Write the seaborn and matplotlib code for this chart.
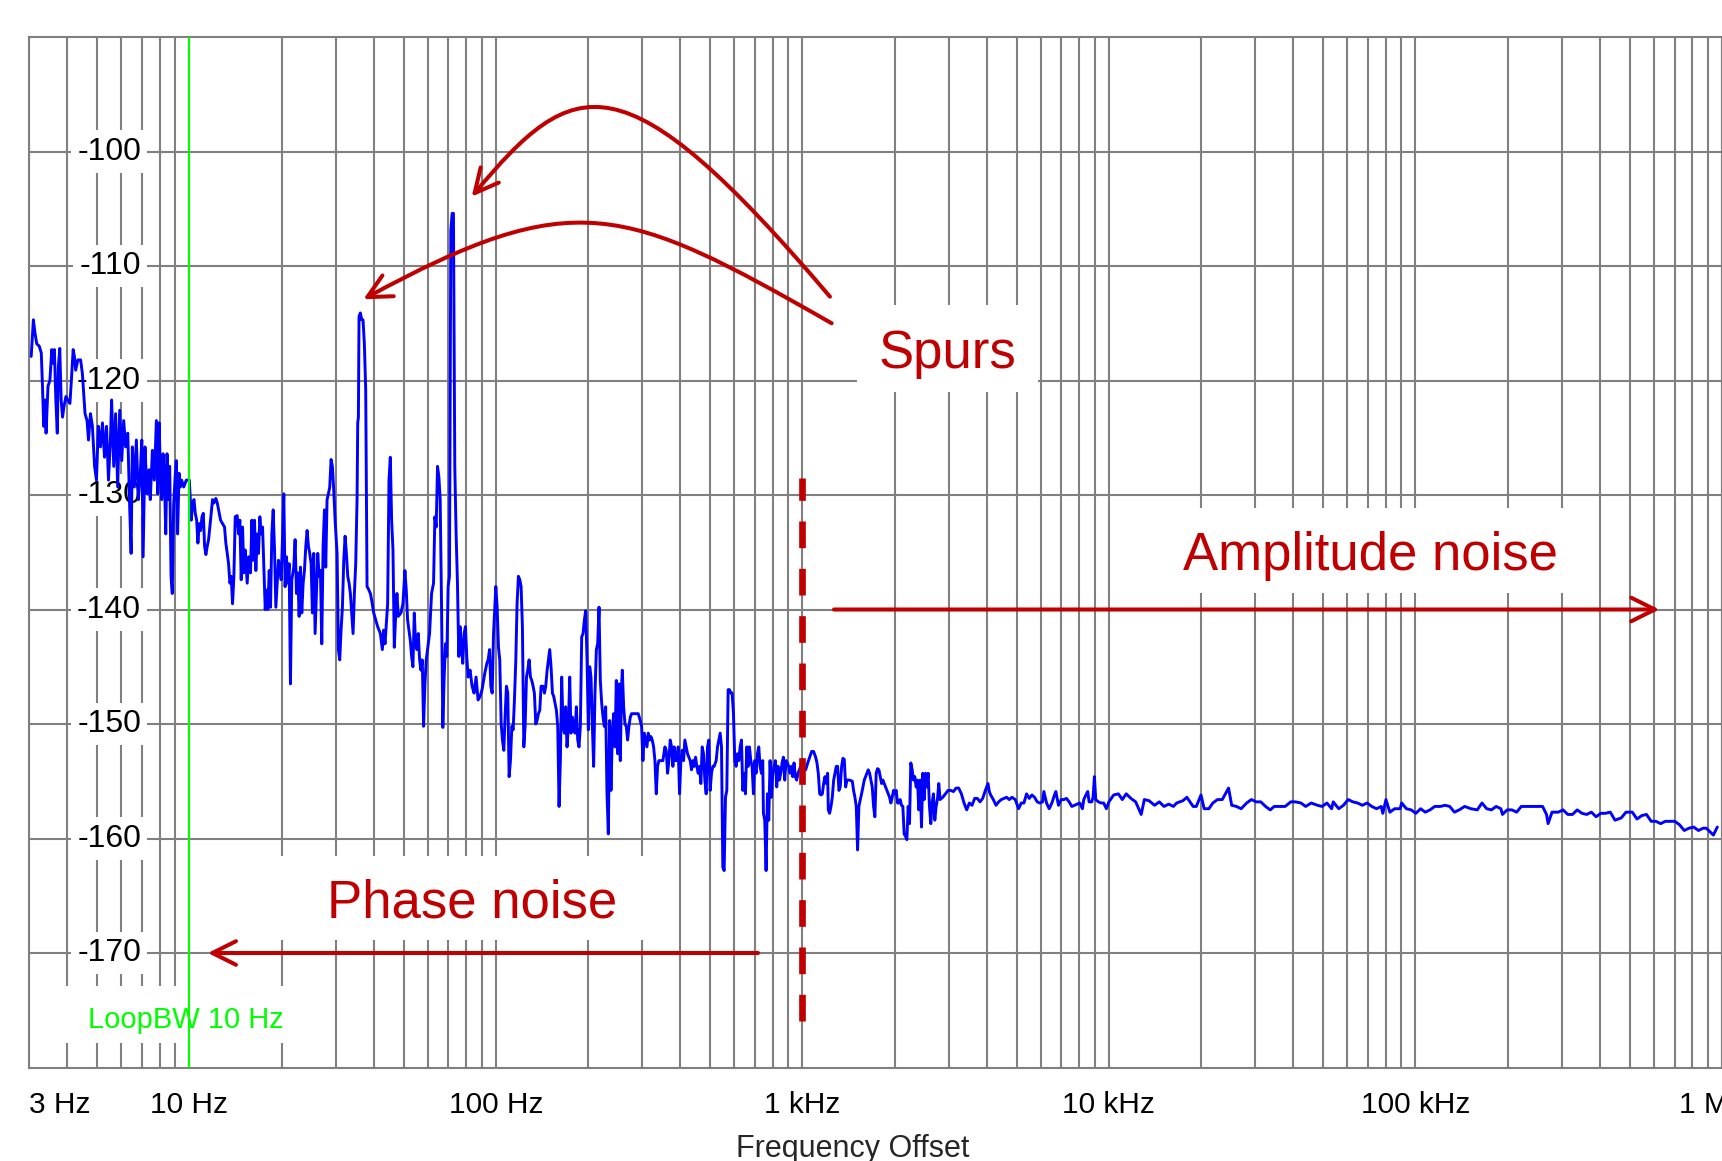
import matplotlib
matplotlib.use("Agg")
import numpy as np
import pandas as pd
import matplotlib.pyplot as plt
import matplotlib.transforms as mtransforms
import seaborn as sns
from matplotlib.patches import Rectangle, FancyArrowPatch
from matplotlib.path import Path
from matplotlib.ticker import FixedLocator, LogLocator, NullFormatter

# ---------------- data: (offset frequency Hz, dBc/Hz) ----------------
band_3_10hz = [
    (3.05, -117.9), (3.10, -114.7), (3.14, -115.9), (3.18, -116.8), (3.24, -117.0), (3.29, -117.6),
    (3.32, -120.5), (3.35, -124.0), (3.39, -121.7), (3.41, -124.6), (3.46, -120.5), (3.51, -120.0),
    (3.56, -117.3), (3.60, -118.5), (3.63, -117.3), (3.67, -121.7), (3.71, -124.6), (3.74, -118.8),
    (3.78, -117.2), (3.82, -121.7), (3.86, -123.2), (3.90, -122.3), (3.96, -121.4), (4.01, -121.7),
    (4.08, -122.0), (4.12, -120.2), (4.18, -117.3), (4.22, -117.9), (4.26, -119.1), (4.33, -118.2),
    (4.42, -118.2), (4.48, -119.4), (4.53, -121.4), (4.57, -122.9), (4.64, -123.5), (4.69, -125.2),
    (4.76, -122.9), (4.83, -124.0), (4.91, -127.5), (4.98, -128.7), (5.05, -124.0), (5.13, -125.8),
    (5.21, -123.7), (5.29, -126.7), (5.37, -124.0), (5.45, -128.7), (5.53, -125.2), (5.58, -121.7),
    (5.67, -127.5), (5.75, -122.9), (5.84, -129.3), (5.93, -122.6), (6.02, -127.0), (6.11, -123.5),
    (6.20, -125.8), (6.30, -124.6), (6.39, -131.0), (6.46, -135.1), (6.52, -125.8), (6.62, -129.3),
    (6.72, -125.2), (6.82, -130.4), (6.92, -128.1), (7.00, -125.2), (7.07, -135.4), (7.17, -125.8),
    (7.28, -129.9), (7.39, -127.8), (7.46, -130.4), (7.58, -126.1), (7.69, -128.7), (7.81, -123.5),
    (7.89, -129.9), (7.97, -123.7), (8.05, -128.1), (8.13, -130.4), (8.21, -126.4), (8.29, -128.1),
    (8.38, -133.4), (8.46, -126.4), (8.54, -130.4), (8.63, -127.5), (8.72, -137.1), (8.80, -138.6),
    (8.89, -131.0), (8.98, -128.7), (9.07, -127.0), (9.16, -133.4), (9.26, -128.1), (9.35, -129.3),
    (9.44, -128.7), (9.59, -129.3), (9.78, -128.7), (10.0, -128.7),
]

band_10_100hz = [
    (10.08, -130.4), (10.15, -132.2), (10.25, -130.7), (10.36, -130.4), (10.46, -131.6), (10.57, -132.2),
    (10.67, -134.2), (10.78, -132.5), (10.89, -133.1), (11.00, -131.9), (11.11, -131.6), (11.22, -134.5),
    (11.33, -135.2), (11.44, -134.5), (11.56, -133.9), (11.73, -132.2), (11.91, -130.4), (12.03, -130.7),
    (12.21, -130.3), (12.34, -130.7), (12.46, -131.3), (12.65, -132.2), (12.84, -132.5), (13.03, -132.8),
    (13.16, -134.2), (13.30, -135.1), (13.43, -136.0), (13.57, -137.7), (13.70, -137.1), (13.84, -139.5),
    (13.98, -137.1), (14.12, -131.9), (14.33, -131.8), (14.48, -133.4), (14.62, -132.2), (14.77, -137.4),
    (14.92, -132.8), (15.07, -136.8), (15.22, -134.8), (15.45, -137.7), (15.61, -135.4), (15.84, -136.8),
    (16.00, -132.2), (16.16, -135.7), (16.32, -132.2), (16.49, -136.6), (16.65, -133.4), (16.82, -135.1),
    (16.99, -131.9), (17.16, -133.4), (17.34, -132.8), (17.51, -136.3), (17.69, -140.0), (17.86, -138.3),
    (18.04, -140.0), (18.23, -136.6), (18.41, -139.8), (18.59, -133.4), (18.78, -131.3), (18.97, -134.8),
    (19.16, -139.8), (19.35, -137.7), (19.54, -135.7), (19.74, -136.3), (19.94, -137.4), (20.14, -133.9),
    (20.34, -129.9), (20.54, -138.0), (20.75, -135.4), (20.96, -137.7), (21.17, -136.0), (21.38, -146.5),
    (21.60, -137.4), (21.92, -136.3), (22.14, -133.9), (22.37, -138.6), (22.59, -136.8), (22.82, -140.6),
    (23.05, -136.3), (23.28, -140.3), (23.52, -137.7), (23.75, -136.6), (23.99, -134.5), (24.23, -133.1),
    (24.48, -134.5), (24.72, -135.1), (24.97, -136.0), (25.22, -140.3), (25.47, -135.1), (25.73, -142.1),
    (25.99, -138.6), (26.25, -135.1), (26.51, -137.1), (26.78, -136.6), (27.05, -143.0), (27.32, -134.5),
    (27.60, -131.3), (27.87, -136.3), (28.15, -130.4), (28.44, -129.9), (28.72, -129.3), (29.01, -126.9),
    (29.30, -127.5), (29.60, -129.6), (29.90, -132.2), (30.35, -135.1), (30.65, -143.5), (30.96, -144.4),
    (31.27, -141.8), (31.59, -139.8), (31.91, -135.7), (32.23, -133.6), (32.55, -135.1), (32.88, -137.1),
    (33.21, -137.7), (33.54, -138.6), (33.88, -140.3), (34.22, -142.1), (34.56, -138.6), (34.91, -136.0),
    (35.26, -130.4), (35.44, -123.7), (35.62, -123.2), (35.79, -114.4), (36.15, -114.1), (36.52, -114.7),
    (36.88, -114.7), (37.25, -116.8), (37.63, -120.8), (38.01, -138.0), (38.39, -138.2), (38.97, -138.6),
    (39.36, -139.2), (39.96, -140.3), (40.56, -140.9), (41.17, -141.5), (42.01, -142.1), (42.64, -143.5),
    (43.06, -141.8), (43.50, -143.0), (43.93, -141.2), (44.37, -139.5), (44.82, -128.7), (45.27, -126.7),
    (45.72, -132.2), (46.18, -134.8), (46.64, -143.3), (47.11, -140.6), (47.58, -138.6), (48.06, -140.6),
    (49.03, -140.3), (49.77, -139.5), (50.52, -136.6), (51.03, -138.3), (51.54, -140.9), (52.06, -141.8),
    (52.60, -142.7), (53.12, -144.1), (53.65, -145.0), (54.20, -140.3), (54.74, -143.0), (55.29, -143.5),
    (55.85, -142.1), (56.41, -144.4), (56.97, -145.3), (57.55, -144.4), (58.12, -150.2), (58.71, -146.5),
    (59.29, -144.4), (59.89, -143.5), (60.79, -142.1), (61.71, -138.6), (62.64, -137.7), (63.26, -131.9),
    (63.90, -132.8), (64.54, -127.5), (65.19, -128.4), (65.84, -130.4), (66.50, -139.5), (67.16, -150.3),
    (67.84, -145.9), (68.52, -143.0), (69.21, -144.1), (69.90, -138.0), (70.60, -137.1), (71.31, -106.9),
    (72.02, -105.4), (72.74, -105.4), (73.47, -127.5), (74.21, -133.4), (74.96, -137.7), (75.71, -144.1),
    (76.47, -141.5), (77.24, -143.3), (78.01, -144.7), (78.80, -142.1), (79.59, -141.5), (80.39, -144.1),
    (81.19, -145.9), (82.42, -145.3), (83.66, -146.7), (84.92, -147.3), (86.21, -145.9), (87.51, -147.9),
    (88.83, -147.6), (90.17, -147.0), (92.0, -145.6), (93.5, -144.7), (94.4, -144.4), (95.4, -143.5),
    (96.3, -146.7), (97.3, -147.3), (98.3, -142.1),
]

band_100hz_1khz = [
    (100.0, -138.0), (101.0, -139.8), (102.0, -143.3), (103.0, -144.4), (104.1, -150.0), (105.1, -151.4),
    (106.2, -152.3), (107.3, -149.1), (108.3, -146.7), (109.4, -147.3), (110.5, -154.6), (111.6, -153.2),
    (112.8, -150.2), (113.9, -150.5), (115.0, -147.9), (116.2, -144.4), (117.3, -139.5), (118.5, -137.1),
    (119.7, -137.4), (120.9, -138.0), (122.1, -141.5), (123.4, -152.0), (124.6, -150.2), (125.9, -145.9),
    (127.1, -145.3), (128.4, -144.4), (129.7, -145.9), (131.0, -146.2), (132.3, -146.7), (133.6, -147.3),
    (135.0, -150.0), (136.3, -149.7), (137.7, -149.1), (139.1, -148.8), (140.5, -146.7), (142.6, -146.7),
    (144.1, -147.3), (145.5, -146.7), (147.0, -145.3), (148.4, -144.4), (149.9, -143.5), (151.4, -145.0),
    (153.0, -147.3), (154.5, -147.6), (156.0, -148.2), (157.6, -148.8), (159.2, -150.2), (160.8, -157.2),
    (162.4, -153.2), (164.0, -145.9), (165.7, -150.2), (167.4, -150.8), (169.0, -148.5), (170.7, -152.0),
    (172.5, -150.2), (174.2, -145.9), (175.9, -150.8), (177.7, -149.4), (179.5, -150.2), (181.3, -150.8),
    (183.1, -148.5), (185.0, -151.4), (186.8, -152.0), (188.7, -150.2), (190.6, -142.4), (192.5, -142.1),
    (194.5, -140.9), (196.4, -140.1), (198.4, -144.4), (200.4, -150.5), (202.4, -145.0), (204.4, -145.9),
    (206.5, -150.2), (208.5, -153.7), (210.6, -147.3), (212.8, -143.5), (214.9, -143.0), (217.1, -139.8),
    (219.2, -146.2), (221.5, -148.2), (223.7, -149.4), (225.9, -150.2), (228.2, -148.5), (230.5, -156.1),
    (232.8, -159.6), (235.1, -149.7), (237.5, -155.8), (239.9, -150.8), (242.3, -149.1), (244.7, -152.0),
    (247.2, -146.2), (249.7, -152.6), (252.2, -146.5), (254.7, -153.2), (257.3, -146.5), (258.6, -145.3),
    (261.2, -148.5), (263.8, -150.0), (266.4, -150.2), (269.1, -151.4), (271.8, -150.2), (274.6, -149.4),
    (277.3, -149.1), (282.9, -149.1), (291.5, -149.1), (295.9, -149.7), (298.9, -150.2), (301.9, -153.2),
    (305.0, -150.8), (308.0, -151.4), (311.1, -152.0), (314.2, -150.8), (317.4, -151.4), (320.6, -151.1),
    (323.8, -151.4), (327.1, -152.0), (330.4, -153.2), (333.7, -156.1), (337.0, -153.7), (340.4, -153.2),
    (343.8, -153.2), (350.8, -153.2), (356.1, -152.0), (359.7, -152.3), (363.3, -154.3), (366.9, -153.2),
    (370.6, -151.4), (374.4, -152.0), (378.1, -153.7), (381.9, -152.0), (385.7, -153.2), (389.6, -153.2),
    (393.5, -152.0), (397.5, -156.1), (401.5, -153.2), (405.5, -152.3), (409.6, -153.2), (413.7, -151.4),
    (417.9, -152.0), (422.1, -152.6), (426.3, -152.9), (430.6, -153.2), (434.9, -154.0), (439.3, -153.2),
    (443.7, -153.7), (448.2, -152.9), (452.7, -153.7), (457.2, -154.3), (461.8, -153.7), (466.5, -155.2),
    (471.2, -152.0), (475.9, -152.6), (480.7, -154.9), (485.5, -156.1), (490.4, -152.0), (495.3, -151.4),
    (500.3, -155.8), (505.3, -154.3), (510.4, -153.7), (515.5, -153.7), (523.3, -153.2), (528.6, -152.0),
    (533.9, -151.4), (539.3, -150.8), (544.7, -152.0), (550.1, -162.5), (555.7, -162.8), (561.3, -156.4),
    (566.9, -155.8), (572.6, -147.0), (578.3, -147.0), (584.2, -147.3), (590.0, -147.3), (596.0, -149.1),
    (601.9, -153.2), (608.0, -153.7), (614.1, -152.6), (620.3, -153.2), (626.5, -152.0), (632.8, -151.4),
    (639.2, -155.8), (645.6, -154.3), (652.1, -156.1), (658.6, -152.0), (665.3, -153.7), (672.0, -152.0),
    (678.7, -153.2), (685.5, -153.7), (692.4, -156.1), (699.4, -153.2), (706.4, -154.3), (713.5, -152.6),
    (720.7, -152.0), (727.9, -153.7), (735.2, -154.3), (742.6, -153.2), (746.3, -157.8), (753.8, -158.4),
    (761.4, -162.8), (769.1, -156.1), (776.8, -158.4), (784.6, -153.2), (792.5, -156.4), (800.4, -154.3),
    (808.5, -153.7), (816.6, -153.2), (824.8, -155.5), (833.1, -153.7), (841.5, -154.9), (850.0, -154.3),
    (858.5, -153.4), (867.1, -152.9), (875.8, -154.9), (884.6, -153.2), (893.5, -153.4), (902.5, -153.7),
    (911.6, -154.3), (920.7, -153.7), (930.0, -154.6), (939.3, -153.4), (948.8, -154.6), (958.3, -154.9),
    (968.0, -154.3), (977.7, -154.0), (987.5, -153.7),
]

band_1_10khz = [
    (1010, -153.7), (1025, -154.0), (1041, -153.4), (1056, -152.9), (1072, -152.4), (1088, -152.4),
    (1105, -152.9), (1116, -153.4), (1127, -154.3), (1139, -156.1), (1150, -156.2), (1162, -156.1),
    (1173, -155.2), (1185, -154.6), (1197, -155.2), (1209, -154.3), (1215, -157.5), (1227, -157.8),
    (1240, -157.2), (1252, -156.4), (1265, -154.9), (1277, -154.3), (1290, -153.7), (1303, -153.7),
    (1316, -155.8), (1329, -155.5), (1343, -153.7), (1356, -153.0), (1370, -153.1), (1384, -155.5),
    (1398, -154.9), (1426, -154.9), (1455, -155.0), (1469, -155.8), (1484, -156.4), (1499, -157.2),
    (1514, -161.0), (1529, -157.2), (1545, -156.6), (1560, -156.1), (1576, -155.5), (1592, -154.9),
    (1608, -154.6), (1624, -154.3), (1640, -154.0), (1657, -154.3), (1673, -154.9), (1690, -155.5),
    (1707, -157.2), (1724, -158.1), (1741, -154.3), (1759, -153.9), (1777, -154.0), (1795, -154.6),
    (1813, -155.2), (1831, -154.9), (1849, -155.2), (1868, -155.5), (1887, -155.8), (1906, -156.1),
    (1925, -156.4), (1944, -156.9), (1964, -156.4), (1983, -155.8), (2003, -156.1), (2023, -155.8),
    (2044, -156.9), (2064, -156.9), (2085, -156.6), (2106, -157.1), (2127, -157.2), (2148, -159.6),
    (2170, -159.8), (2192, -160.1), (2214, -157.2), (2236, -158.7), (2258, -153.4), (2281, -154.0),
    (2304, -154.9), (2327, -154.6), (2351, -155.5), (2374, -154.9), (2398, -157.5), (2422, -154.9),
    (2447, -159.0), (2471, -154.3), (2496, -156.6), (2521, -154.3), (2546, -155.5), (2572, -154.3),
    (2598, -157.2), (2624, -158.7), (2650, -156.9), (2677, -156.1), (2704, -158.4), (2731, -157.2),
    (2758, -156.6), (2786, -155.2), (2814, -156.6), (2871, -156.4), (2929, -156.1), (2988, -155.8),
    (3048, -155.8), (3110, -155.9), (3172, -155.6), (3236, -155.6), (3302, -156.1), (3368, -156.9),
    (3436, -157.5), (3506, -156.9), (3577, -157.1), (3649, -156.5), (3722, -156.5), (3798, -156.8),
    (3874, -156.5), (3953, -155.8), (3992, -155.5), (4032, -155.2), (4073, -155.9), (4114, -156.2),
    (4197, -156.6), (4282, -157.1), (4368, -156.8), (4456, -156.6), (4546, -156.5), (4638, -156.4),
    (4732, -156.6), (4827, -156.4), (4949, -156.6), (5074, -157.4), (5176, -156.9), (5281, -156.9),
    (5387, -156.1), (5496, -156.5), (5607, -156.2), (5720, -156.4), (5836, -156.8), (5954, -156.9),
    (6074, -156.8), (6135, -155.9), (6259, -156.9), (6385, -157.4), (6514, -156.9), (6645, -156.2),
    (6712, -155.9), (6847, -157.1), (6985, -156.6), (7126, -156.6), (7270, -156.5), (7417, -156.8),
    (7567, -157.2), (7719, -157.1), (7875, -157.0), (8034, -156.9), (8196, -157.4), (8279, -156.6),
    (8446, -156.1), (8531, -155.9), (8616, -156.8), (8790, -156.8), (8878, -156.4), (8968, -154.6),
    (9058, -156.6), (9241, -156.8), (9427, -156.9), (9617, -156.9), (9811, -157.4),
]

band_10khz_1mhz = [
    (10000, -156.8), (10361, -156.2), (10735, -156.1), (11057, -156.6), (11389, -156.1), (11800, -156.5),
    (12227, -156.8), (12743, -157.9), (13048, -156.6), (13519, -156.7), (14090, -157.1), (14599, -156.8),
    (15126, -157.2), (15673, -157.0), (16238, -157.2), (16627, -156.9), (17432, -156.7), (17956, -156.4),
    (18825, -157.2), (19276, -157.2), (19971, -156.2), (20449, -157.4), (21187, -157.4), (21823, -156.9),
    (22611, -156.6), (23427, -156.6), (23988, -156.1), (24562, -155.6), (25150, -157.1), (26058, -157.2),
    (26999, -157.4), (28140, -156.9), (29156, -156.6), (30208, -156.8), (31299, -156.8), (32429, -157.2),
    (33600, -157.5), (34608, -157.2), (36071, -157.2), (37595, -157.2), (39183, -156.8), (40598, -156.8),
    (42313, -156.9), (43841, -157.2), (45693, -156.9), (47906, -157.1), (49636, -157.2), (51428, -156.9),
    (53285, -157.4), (53919, -156.8), (56197, -157.4), (58226, -157.1), (60328, -156.6), (62506, -156.8),
    (64763, -156.9), (67101, -157.1), (69524, -156.9), (72034, -157.2), (74635, -157.4), (77330, -157.2),
    (78250, -157.8), (80122, -156.6), (82526, -157.7), (85506, -157.4), (89119, -157.4), (90179, -156.9),
    (93435, -157.4), (96809, -157.5), (100300, -157.8), (103930, -157.4), (107680, -157.7), (111570, -157.5),
    (115600, -157.2), (120490, -157.2), (124840, -157.1), (129350, -157.2), (134020, -157.7), (138860, -157.5),
    (144730, -157.2), (151740, -157.4), (159090, -157.5), (164830, -156.9), (170780, -157.4), (176950, -157.5),
    (183340, -157.2), (189960, -157.4), (192210, -157.9), (199150, -157.5), (206340, -157.5), (213790, -157.7),
    (221510, -157.2), (229510, -157.2), (240620, -157.2), (249310, -157.2), (259840, -157.2), (267640, -157.9),
    (270820, -158.7), (278950, -157.7), (292460, -157.7), (303020, -157.5), (313960, -157.9), (325290, -157.9),
    (337040, -157.5), (349210, -157.8), (361820, -157.9), (374880, -157.7), (388420, -158.1), (402440, -157.8),
    (416970, -157.8), (432030, -157.7), (447630, -158.4), (469300, -158.2), (486250, -157.7), (509800, -157.7),
    (528210, -158.3), (547280, -158.0), (567040, -157.9), (587520, -158.5), (608730, -158.5), (630710, -158.7),
    (653490, -158.5), (677100, -158.5), (701540, -158.5), (726870, -158.8), (753120, -159.3), (780310, -159.1),
    (808490, -159.0), (837680, -159.3), (867920, -159.1), (888700, -159.1), (920780, -159.5), (937240, -159.7),
    (965400, -159.0),
]

x_tick_values = [3, 10, 100, 1e3, 1e4, 1e5, 1e6]
x_tick_labels = ["3 Hz", "10 Hz", "100 Hz", "1 kHz", "10 kHz", "100 kHz", "1 MHz"]
y_tick_values = [-100, -110, -120, -130, -140, -150, -160, -170]
loop_bw_hz = 10
split_freq_hz = 1000

# ---------------- style ----------------
sns.set_style("white")
plt.rcParams["font.family"] = ["Liberation Sans", "DejaVu Sans"]

GRID = "#808080"
RED = "#C00000"
BLUE = "#0000FF"
GREEN = "#00FF00"

df = pd.DataFrame(band_3_10hz + band_10_100hz + band_100hz_1khz + band_1_10khz + band_10khz_1mhz,
                  columns=["freq", "dbc"])

fig = plt.figure(figsize=(17.22, 11.61), dpi=100)
ax = fig.add_axes([29 / 1722, 93.5 / 1161, 1 - 29 / 1722, 1030.5 / 1161])

sns.lineplot(data=df, x="freq", y="dbc", ax=ax, estimator=None, sort=False,
             color=BLUE, linewidth=2.1, zorder=3)
ax.set_xscale("log")
ax.set_xlim(3, 1e6)
ax.set_ylim(-180, -90)
ax.set_xlabel("")
ax.set_ylabel("")

# grid
ax.set_axisbelow(True)
ax.xaxis.set_major_locator(FixedLocator(x_tick_values))
ax.xaxis.set_minor_locator(LogLocator(base=10, subs=np.arange(2, 10), numticks=30))
ax.xaxis.set_minor_formatter(NullFormatter())
ax.set_yticks(y_tick_values)
ax.grid(True, which="both", axis="x", color=GRID, linewidth=1.5)
ax.grid(True, which="major", axis="y", color=GRID, linewidth=1.5)
for s in ax.spines.values():
    s.set_color(GRID)
    s.set_linewidth(1.5)

ax.tick_params(axis="y", length=0, labelleft=False)
ax.tick_params(axis="x", which="both", direction="out", length=4, width=1.5, color=GRID,
               pad=13, labelcolor="black")
lbls = ax.set_xticklabels(x_tick_labels, fontsize=21.5)
lbls[0].set_horizontalalignment("left")

# y labels inside the plot, with white boxes
ytrans = mtransforms.blended_transform_factory(ax.transAxes, ax.transData)
for v in y_tick_values:
    ax.text(0.0662, v, f"{v}", transform=ytrans, ha="right", va="center", fontsize=23,
            color="black", zorder=1.2,
            bbox=dict(boxstyle="square,pad=0.2", fc="white", ec="none"))

fig.text(853 / 1722, 1 - 1134 / 1161, "Frequency Offset", ha="center", va="top", fontsize=22)

# loop bandwidth marker
ax.axvline(loop_bw_hz, color=GREEN, linewidth=1.5, zorder=3.5)
ax.add_patch(Rectangle((3.8, -177.9), 23 - 3.8, 5.0, fc="white", ec="none", zorder=1.0))
ax.text(4.67, -175.85, "LoopBW 10 Hz", color=GREEN, fontsize=21,
        ha="left", va="center", zorder=1.3)

# annotation boxes
for (x0, x1, y0, y1) in [(1510, 5890, -121.0, -113.4), (13700, 345000, -138.55, -131.1),
                         (15.8, 344, -168.86, -161.5)]:
    ax.add_patch(Rectangle((x0, y0), x1 - x0, y1 - y0, fc="white", ec="none", zorder=1.0))

ax.text(2972, -118.93, "Spurs", color=RED, fontsize=38, ha="center", va="baseline", zorder=4)
ax.text(71300, -136.55, "Amplitude noise", color=RED, fontsize=38, ha="center", va="baseline", zorder=4)
ax.text(83.5, -166.94, "Phase noise", color=RED, fontsize=38, ha="center", va="baseline", zorder=4)

astyle = "->,head_length=0.5,head_width=0.25"
ax.annotate("", xy=(11.5, -170), xytext=(717, -170),
            arrowprops=dict(arrowstyle=astyle, color=RED, lw=2.9, shrinkA=0, shrinkB=0,
                            mutation_scale=34), zorder=4)
ax.annotate("", xy=(624600, -140), xytext=(1268, -140),
            arrowprops=dict(arrowstyle=astyle, color=RED, lw=2.9, shrinkA=0, shrinkB=0,
                            mutation_scale=34), zorder=4)

# curved arrows to the spurs (axes fraction coordinates)
codes = [Path.MOVETO, Path.CURVE4, Path.CURVE4, Path.CURVE4]
curve1 = [(0.4731, 0.7480), (0.3506, 0.9846), (0.3220, 0.9643), (0.2615, 0.8451)]
curve2 = [(0.4741, 0.7222), (0.3511, 0.8377), (0.3221, 0.8566), (0.1975, 0.7455)]
for c in (curve1, curve2):
    p = FancyArrowPatch(path=Path(c, codes), arrowstyle=astyle, color=RED, lw=2.9,
                        mutation_scale=34, transform=ax.transAxes, zorder=4)
    ax.add_patch(p)

# split between phase and amplitude noise
ax.vlines(split_freq_hz, -175.9, -128.5, colors=RED, linewidth=4.8,
          linestyles=[(0, (4, 3.1))], zorder=4)

fig.savefig("out.png", dpi=100)
